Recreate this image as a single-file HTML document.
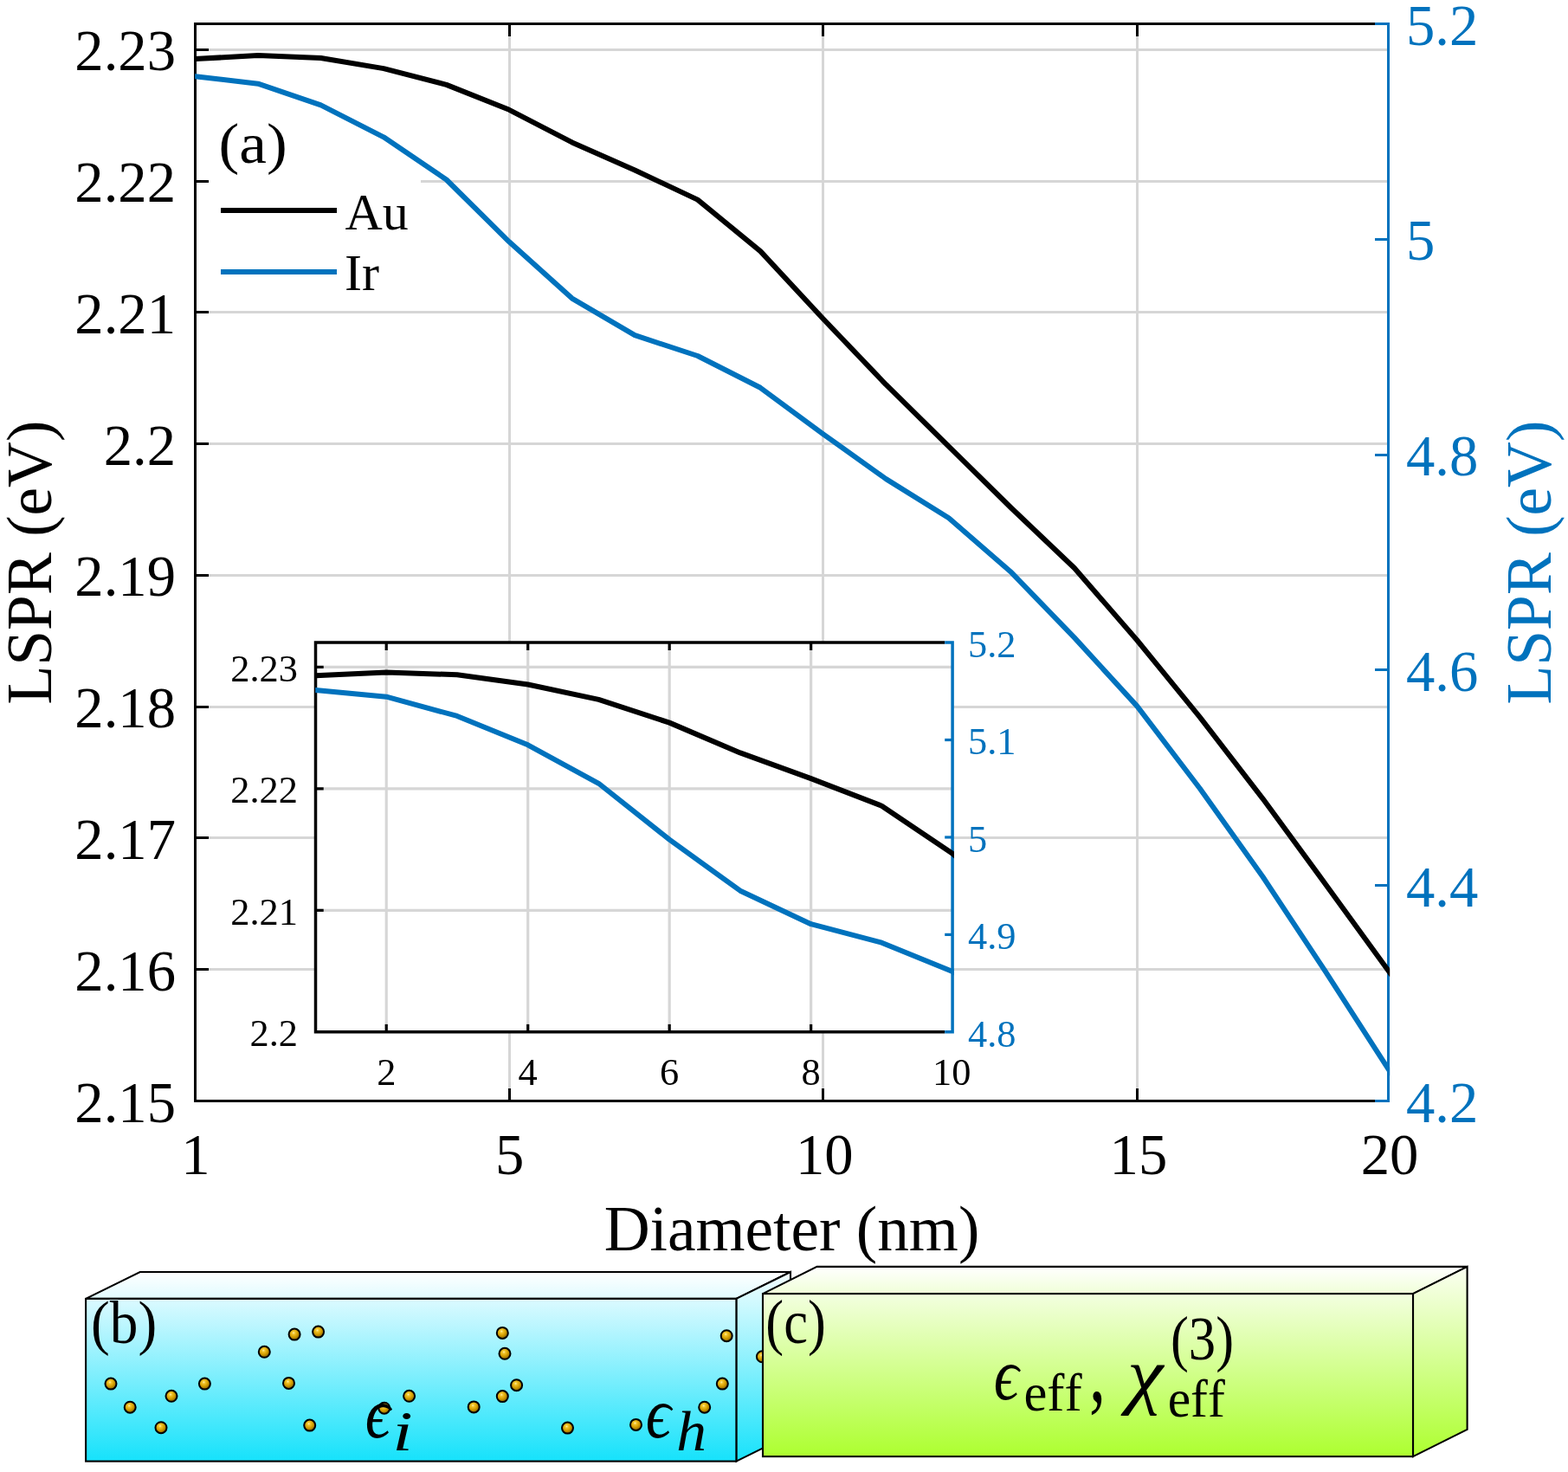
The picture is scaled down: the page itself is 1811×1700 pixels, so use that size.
<!DOCTYPE html>
<html lang="en"><head><meta charset="utf-8"><title>LSPR versus diameter</title>
<style>html,body{margin:0;padding:0;background:#fff;}svg{display:block;}text{font-family:'Liberation Serif', 'DejaVu Serif', serif;}</style></head><body>
<svg width="1811" height="1700" viewBox="0 0 1811 1700">
<defs>
<clipPath id="cm"><rect x="225.2" y="26" width="1380" height="1247"/></clipPath>
<clipPath id="ci"><rect x="364.2" y="740.5" width="737.7" height="453"/></clipPath>
<linearGradient id="gc" x1="0" y1="0" x2="0" y2="1"><stop offset="0" stop-color="#dcfaff"/><stop offset="1" stop-color="#16e2fb"/></linearGradient>
<linearGradient id="gct" x1="0" y1="0" x2="0" y2="1"><stop offset="0" stop-color="#ffffff"/><stop offset="1" stop-color="#e0fbff"/></linearGradient>
<linearGradient id="gcs" x1="0" y1="0" x2="0" y2="1"><stop offset="0" stop-color="#f4feff"/><stop offset="1" stop-color="#17e2fb"/></linearGradient>
<linearGradient id="gg" x1="0" y1="0" x2="0" y2="1"><stop offset="0" stop-color="#f3ffe0"/><stop offset="1" stop-color="#adff2f"/></linearGradient>
<linearGradient id="ggt" x1="0" y1="0" x2="0" y2="1"><stop offset="0" stop-color="#ffffff"/><stop offset="1" stop-color="#f0ffd8"/></linearGradient>
<linearGradient id="ggs" x1="0" y1="0" x2="0" y2="1"><stop offset="0" stop-color="#fbfff2"/><stop offset="1" stop-color="#adff2f"/></linearGradient>
<radialGradient id="gb" cx="0.42" cy="0.36" r="0.62"><stop offset="0" stop-color="#fff0a8"/><stop offset="0.22" stop-color="#f2c428"/><stop offset="0.6" stop-color="#d29c02"/><stop offset="1" stop-color="#8a6400"/></radialGradient>
</defs>
<rect x="0" y="0" width="1811" height="1700" fill="#fff"/>
<line x1="225.50" y1="57.40" x2="1603.50" y2="57.40" stroke="#d6d6d6" stroke-width="3.0" shape-rendering="crispEdges"/>
<line x1="486.00" y1="209.16" x2="1603.50" y2="209.16" stroke="#d6d6d6" stroke-width="3.0" shape-rendering="crispEdges"/>
<line x1="225.50" y1="360.92" x2="1603.50" y2="360.92" stroke="#d6d6d6" stroke-width="3.0" shape-rendering="crispEdges"/>
<line x1="225.50" y1="512.69" x2="1603.50" y2="512.69" stroke="#d6d6d6" stroke-width="3.0" shape-rendering="crispEdges"/>
<line x1="225.50" y1="664.45" x2="1603.50" y2="664.45" stroke="#d6d6d6" stroke-width="3.0" shape-rendering="crispEdges"/>
<line x1="225.50" y1="816.21" x2="1603.50" y2="816.21" stroke="#d6d6d6" stroke-width="3.0" shape-rendering="crispEdges"/>
<line x1="225.50" y1="967.97" x2="1603.50" y2="967.97" stroke="#d6d6d6" stroke-width="3.0" shape-rendering="crispEdges"/>
<line x1="225.50" y1="1119.74" x2="1603.50" y2="1119.74" stroke="#d6d6d6" stroke-width="3.0" shape-rendering="crispEdges"/>
<line x1="588.13" y1="27.50" x2="588.13" y2="1271.50" stroke="#d6d6d6" stroke-width="3.0" shape-rendering="crispEdges"/>
<line x1="950.76" y1="27.50" x2="950.76" y2="1271.50" stroke="#d6d6d6" stroke-width="3.0" shape-rendering="crispEdges"/>
<line x1="1313.39" y1="27.50" x2="1313.39" y2="1271.50" stroke="#d6d6d6" stroke-width="3.0" shape-rendering="crispEdges"/>
<line x1="588.13" y1="1271.50" x2="588.13" y2="1257.00" stroke="#000" stroke-width="3.0" shape-rendering="crispEdges"/>
<line x1="588.13" y1="27.50" x2="588.13" y2="42.00" stroke="#000" stroke-width="3.0" shape-rendering="crispEdges"/>
<line x1="950.76" y1="1271.50" x2="950.76" y2="1257.00" stroke="#000" stroke-width="3.0" shape-rendering="crispEdges"/>
<line x1="950.76" y1="27.50" x2="950.76" y2="42.00" stroke="#000" stroke-width="3.0" shape-rendering="crispEdges"/>
<line x1="1313.39" y1="1271.50" x2="1313.39" y2="1257.00" stroke="#000" stroke-width="3.0" shape-rendering="crispEdges"/>
<line x1="1313.39" y1="27.50" x2="1313.39" y2="42.00" stroke="#000" stroke-width="3.0" shape-rendering="crispEdges"/>
<line x1="225.50" y1="57.40" x2="241.00" y2="57.40" stroke="#000" stroke-width="3.0" shape-rendering="crispEdges"/>
<line x1="225.50" y1="209.16" x2="241.00" y2="209.16" stroke="#000" stroke-width="3.0" shape-rendering="crispEdges"/>
<line x1="225.50" y1="360.92" x2="241.00" y2="360.92" stroke="#000" stroke-width="3.0" shape-rendering="crispEdges"/>
<line x1="225.50" y1="512.69" x2="241.00" y2="512.69" stroke="#000" stroke-width="3.0" shape-rendering="crispEdges"/>
<line x1="225.50" y1="664.45" x2="241.00" y2="664.45" stroke="#000" stroke-width="3.0" shape-rendering="crispEdges"/>
<line x1="225.50" y1="816.21" x2="241.00" y2="816.21" stroke="#000" stroke-width="3.0" shape-rendering="crispEdges"/>
<line x1="225.50" y1="967.97" x2="241.00" y2="967.97" stroke="#000" stroke-width="3.0" shape-rendering="crispEdges"/>
<line x1="225.50" y1="1119.74" x2="241.00" y2="1119.74" stroke="#000" stroke-width="3.0" shape-rendering="crispEdges"/>
<line x1="1603.50" y1="276.30" x2="1588.00" y2="276.30" stroke="#0072BD" stroke-width="3.0" shape-rendering="crispEdges"/>
<line x1="1603.50" y1="525.10" x2="1588.00" y2="525.10" stroke="#0072BD" stroke-width="3.0" shape-rendering="crispEdges"/>
<line x1="1603.50" y1="773.90" x2="1588.00" y2="773.90" stroke="#0072BD" stroke-width="3.0" shape-rendering="crispEdges"/>
<line x1="1603.50" y1="1022.70" x2="1588.00" y2="1022.70" stroke="#0072BD" stroke-width="3.0" shape-rendering="crispEdges"/>
<path d="M1588,27.5 L225.5,27.5 L225.5,1271.5 L1588,1271.5" fill="none" stroke="#000" stroke-width="3.0" stroke-linecap="butt" stroke-linejoin="miter" shape-rendering="crispEdges"/>
<path d="M1588,27.5 L1603.5,27.5 L1603.5,1271.5 L1588,1271.5" fill="none" stroke="#0072BD" stroke-width="3.0" stroke-linecap="butt" stroke-linejoin="miter" shape-rendering="crispEdges"/>
<polyline points="221.50,68.33 225.50,68.10 298.03,64.00 370.55,67.00 443.08,79.10 515.61,97.90 588.13,126.80 660.66,164.40 733.18,196.50 805.71,230.60 878.24,290.10 950.76,368.20 1023.29,444.20 1095.82,515.60 1168.34,587.00 1240.87,656.00 1313.39,739.50 1385.92,828.40 1458.45,922.30 1530.97,1021.20 1603.50,1121.00 1607.50,1126.50" fill="none" stroke="#000" stroke-width="6.0" stroke-linejoin="round" clip-path="url(#cm)"/>
<polyline points="221.50,87.73 225.50,88.20 298.03,96.70 370.55,121.40 443.08,158.30 515.61,207.50 588.13,279.30 660.66,344.60 733.18,387.20 805.71,411.00 878.24,447.80 950.76,501.30 1023.29,553.10 1095.82,598.30 1168.34,661.30 1240.87,736.40 1313.39,815.60 1385.92,910.80 1458.45,1012.50 1530.97,1122.20 1603.50,1234.60 1607.50,1240.80" fill="none" stroke="#0072BD" stroke-width="6.0" stroke-linejoin="round" clip-path="url(#cm)"/>
<text x="203.00" y="81.40" font-size="66.67" fill="#000" text-anchor="end" >2.23</text>
<text x="203.00" y="233.16" font-size="66.67" fill="#000" text-anchor="end" >2.22</text>
<text x="203.00" y="384.92" font-size="66.67" fill="#000" text-anchor="end" >2.21</text>
<text x="203.00" y="536.69" font-size="66.67" fill="#000" text-anchor="end" >2.2</text>
<text x="203.00" y="688.45" font-size="66.67" fill="#000" text-anchor="end" >2.19</text>
<text x="203.00" y="840.21" font-size="66.67" fill="#000" text-anchor="end" >2.18</text>
<text x="203.00" y="991.97" font-size="66.67" fill="#000" text-anchor="end" >2.17</text>
<text x="203.00" y="1143.74" font-size="66.67" fill="#000" text-anchor="end" >2.16</text>
<text x="203.00" y="1295.50" font-size="66.67" fill="#000" text-anchor="end" >2.15</text>
<text x="1624.00" y="51.50" font-size="66.67" fill="#0072BD" text-anchor="start" >5.2</text>
<text x="1624.00" y="300.30" font-size="66.67" fill="#0072BD" text-anchor="start" >5</text>
<text x="1624.00" y="549.10" font-size="66.67" fill="#0072BD" text-anchor="start" >4.8</text>
<text x="1624.00" y="797.90" font-size="66.67" fill="#0072BD" text-anchor="start" >4.6</text>
<text x="1624.00" y="1046.70" font-size="66.67" fill="#0072BD" text-anchor="start" >4.4</text>
<text x="1624.00" y="1295.50" font-size="66.67" fill="#0072BD" text-anchor="start" >4.2</text>
<text x="226.00" y="1356.30" font-size="66.67" fill="#000" text-anchor="middle" >1</text>
<text x="588.63" y="1356.30" font-size="66.67" fill="#000" text-anchor="middle" >5</text>
<text x="952.26" y="1356.30" font-size="66.67" fill="#000" text-anchor="middle" >10</text>
<text x="1314.89" y="1356.30" font-size="66.67" fill="#000" text-anchor="middle" >15</text>
<text x="1605.00" y="1356.30" font-size="66.67" fill="#000" text-anchor="middle" >20</text>
<text x="914.50" y="1443.50" font-size="73.33" fill="#000" text-anchor="middle" >Diameter (nm)</text>
<text transform="translate(58.5,649.5) rotate(-90)" font-size="73.33" fill="#000" text-anchor="middle">LSPR (eV)</text>
<text transform="translate(1790.5,649.5) rotate(-90)" font-size="73.33" fill="#0072BD" text-anchor="middle">LSPR (eV)</text>
<text transform="matrix(0.7133 0 0 0.6573 252.47 187.51)" font-size="100" fill="#000" style="font-kerning:none;font-variant-ligatures:none">(a)</text>
<line x1="255.00" y1="243.00" x2="389.00" y2="243.00" stroke="#000" stroke-width="6.0" />
<line x1="255.00" y1="314.00" x2="389.00" y2="314.00" stroke="#0072BD" stroke-width="6.0" />
<text x="398.50" y="264.50" font-size="60" fill="#000" text-anchor="start" >Au</text>
<text x="398.00" y="334.70" font-size="60" fill="#000" text-anchor="start" >Ir</text>
<rect x="364.5" y="742.1" width="735.5999999999999" height="449.69999999999993" fill="#fff"/>
<line x1="364.50" y1="770.40" x2="1100.10" y2="770.40" stroke="#d6d6d6" stroke-width="3.2" />
<line x1="364.50" y1="910.87" x2="1100.10" y2="910.87" stroke="#d6d6d6" stroke-width="3.2" />
<line x1="364.50" y1="1051.33" x2="1100.10" y2="1051.33" stroke="#d6d6d6" stroke-width="3.2" />
<line x1="446.23" y1="742.10" x2="446.23" y2="1191.80" stroke="#d6d6d6" stroke-width="3.2" />
<line x1="609.70" y1="742.10" x2="609.70" y2="1191.80" stroke="#d6d6d6" stroke-width="3.2" />
<line x1="773.17" y1="742.10" x2="773.17" y2="1191.80" stroke="#d6d6d6" stroke-width="3.2" />
<line x1="936.63" y1="742.10" x2="936.63" y2="1191.80" stroke="#d6d6d6" stroke-width="3.2" />
<line x1="446.23" y1="1191.80" x2="446.23" y2="1182.90" stroke="#000" stroke-width="3.2" />
<line x1="446.23" y1="742.10" x2="446.23" y2="751.00" stroke="#000" stroke-width="3.2" />
<line x1="609.70" y1="1191.80" x2="609.70" y2="1182.90" stroke="#000" stroke-width="3.2" />
<line x1="609.70" y1="742.10" x2="609.70" y2="751.00" stroke="#000" stroke-width="3.2" />
<line x1="773.17" y1="1191.80" x2="773.17" y2="1182.90" stroke="#000" stroke-width="3.2" />
<line x1="773.17" y1="742.10" x2="773.17" y2="751.00" stroke="#000" stroke-width="3.2" />
<line x1="936.63" y1="1191.80" x2="936.63" y2="1182.90" stroke="#000" stroke-width="3.2" />
<line x1="936.63" y1="742.10" x2="936.63" y2="751.00" stroke="#000" stroke-width="3.2" />
<line x1="364.50" y1="770.40" x2="373.70" y2="770.40" stroke="#000" stroke-width="3.2" />
<line x1="364.50" y1="910.87" x2="373.70" y2="910.87" stroke="#000" stroke-width="3.2" />
<line x1="364.50" y1="1051.33" x2="373.70" y2="1051.33" stroke="#000" stroke-width="3.2" />
<line x1="1100.10" y1="854.52" x2="1091.20" y2="854.52" stroke="#0072BD" stroke-width="3.2" />
<line x1="1100.10" y1="966.95" x2="1091.20" y2="966.95" stroke="#0072BD" stroke-width="3.2" />
<line x1="1100.10" y1="1079.38" x2="1091.20" y2="1079.38" stroke="#0072BD" stroke-width="3.2" />
<path d="M1091.1999999999998,742.1 L364.5,742.1 L364.5,1191.8 L1091.1999999999998,1191.8" fill="none" stroke="#000" stroke-width="3.5"/>
<path d="M1091.1999999999998,742.1 L1100.1,742.1 L1100.1,1191.8 L1091.1999999999998,1191.8" fill="none" stroke="#0072BD" stroke-width="3.5"/>
<polyline points="360.50,780.49 364.50,780.30 446.23,776.51 527.97,779.29 609.70,790.48 691.43,807.89 773.17,834.63 854.90,869.44 936.63,899.15 1018.37,930.71 1100.10,985.78 1181.83,1058.07" fill="none" stroke="#000" stroke-width="6.0" stroke-linejoin="round" clip-path="url(#ci)"/>
<polyline points="360.50,796.58 364.50,796.96 446.23,804.64 527.97,826.96 609.70,860.31 691.43,904.77 773.17,969.66 854.90,1028.68 936.63,1067.17 1018.37,1088.68 1100.10,1121.94 1181.83,1170.29" fill="none" stroke="#0072BD" stroke-width="6.0" stroke-linejoin="round" clip-path="url(#ci)"/>
<text x="344.00" y="787.00" font-size="44.4" fill="#000" text-anchor="end" >2.23</text>
<text x="344.00" y="927.47" font-size="44.4" fill="#000" text-anchor="end" >2.22</text>
<text x="344.00" y="1067.93" font-size="44.4" fill="#000" text-anchor="end" >2.21</text>
<text x="344.00" y="1208.40" font-size="44.4" fill="#000" text-anchor="end" >2.2</text>
<text x="1118.00" y="758.90" font-size="44.4" fill="#0072BD" text-anchor="start" >5.2</text>
<text x="1118.00" y="871.32" font-size="44.4" fill="#0072BD" text-anchor="start" >5.1</text>
<text x="1118.00" y="983.75" font-size="44.4" fill="#0072BD" text-anchor="start" >5</text>
<text x="1118.00" y="1096.17" font-size="44.4" fill="#0072BD" text-anchor="start" >4.9</text>
<text x="1118.00" y="1208.60" font-size="44.4" fill="#0072BD" text-anchor="start" >4.8</text>
<text x="446.23" y="1252.90" font-size="44.4" fill="#000" text-anchor="middle" >2</text>
<text x="609.70" y="1252.90" font-size="44.4" fill="#000" text-anchor="middle" >4</text>
<text x="773.17" y="1252.90" font-size="44.4" fill="#000" text-anchor="middle" >6</text>
<text x="936.63" y="1252.90" font-size="44.4" fill="#000" text-anchor="middle" >8</text>
<text x="1099.30" y="1252.90" font-size="44.4" fill="#000" text-anchor="middle" >10</text>
<polygon points="99.1,1499.9 161.7,1469.0 913.0,1469.0 850.4,1499.9" fill="url(#gct)" stroke="#000" stroke-width="2.1" stroke-linejoin="miter"/>
<polygon points="850.4,1499.9 913.0,1469.0 913.0,1656.6999999999998 850.4,1687.6" fill="url(#gcs)" stroke="#000" stroke-width="2.1" stroke-linejoin="miter"/>
<rect x="99.1" y="1499.9" width="751.3" height="187.69999999999982" fill="url(#gc)" stroke="#000" stroke-width="2.1" stroke-linejoin="miter"/>
<circle cx="128.0" cy="1598.1" r="6.5" fill="url(#gb)" stroke="#000" stroke-width="2"/>
<circle cx="150.2" cy="1625.2" r="6.5" fill="url(#gb)" stroke="#000" stroke-width="2"/>
<circle cx="186.0" cy="1648.7" r="6.5" fill="url(#gb)" stroke="#000" stroke-width="2"/>
<circle cx="198.0" cy="1612.3" r="6.5" fill="url(#gb)" stroke="#000" stroke-width="2"/>
<circle cx="236.4" cy="1598.1" r="6.5" fill="url(#gb)" stroke="#000" stroke-width="2"/>
<circle cx="305.3" cy="1561.3" r="6.5" fill="url(#gb)" stroke="#000" stroke-width="2"/>
<circle cx="340.1" cy="1541.1" r="6.5" fill="url(#gb)" stroke="#000" stroke-width="2"/>
<circle cx="367.6" cy="1538.1" r="6.5" fill="url(#gb)" stroke="#000" stroke-width="2"/>
<circle cx="333.5" cy="1597.4" r="6.5" fill="url(#gb)" stroke="#000" stroke-width="2"/>
<circle cx="357.7" cy="1646.1" r="6.5" fill="url(#gb)" stroke="#000" stroke-width="2"/>
<circle cx="443.8" cy="1626.2" r="6.5" fill="url(#gb)" stroke="#000" stroke-width="2"/>
<circle cx="472.6" cy="1612.3" r="6.5" fill="url(#gb)" stroke="#000" stroke-width="2"/>
<circle cx="547.2" cy="1624.9" r="6.5" fill="url(#gb)" stroke="#000" stroke-width="2"/>
<circle cx="580.3" cy="1539.4" r="6.5" fill="url(#gb)" stroke="#000" stroke-width="2"/>
<circle cx="583.0" cy="1563.3" r="6.5" fill="url(#gb)" stroke="#000" stroke-width="2"/>
<circle cx="580.3" cy="1612.6" r="6.5" fill="url(#gb)" stroke="#000" stroke-width="2"/>
<circle cx="596.6" cy="1599.7" r="6.5" fill="url(#gb)" stroke="#000" stroke-width="2"/>
<circle cx="655.5" cy="1649.1" r="6.5" fill="url(#gb)" stroke="#000" stroke-width="2"/>
<circle cx="734.5" cy="1645.4" r="6.5" fill="url(#gb)" stroke="#000" stroke-width="2"/>
<circle cx="813.7" cy="1625.2" r="6.5" fill="url(#gb)" stroke="#000" stroke-width="2"/>
<circle cx="834.3" cy="1598.1" r="6.5" fill="url(#gb)" stroke="#000" stroke-width="2"/>
<circle cx="839.2" cy="1542.7" r="6.5" fill="url(#gb)" stroke="#000" stroke-width="2"/>
<circle cx="880.4" cy="1566.8" r="6.5" fill="url(#gb)" stroke="#000" stroke-width="2"/>
<text transform="matrix(0.6530 0 0 0.7058 105.03 1550.97)" font-size="100" fill="#000" style="font-kerning:none;font-variant-ligatures:none">(b)</text>
<text transform="matrix(0.7205 0 0 0.8275 421.65 1659.89)" font-size="100" fill="#000" font-style="italic" style="font-kerning:none;font-variant-ligatures:none">ϵ</text>
<text transform="matrix(0.8442 0 0 0.6479 453.20 1675.00)" font-size="100" fill="#000" font-style="italic" style="font-kerning:none;font-variant-ligatures:none">i</text>
<text transform="matrix(0.7254 0 0 0.8275 745.64 1659.89)" font-size="100" fill="#000" font-style="italic" style="font-kerning:none;font-variant-ligatures:none">ϵ</text>
<text transform="matrix(0.6937 0 0 0.6457 781.29 1675.00)" font-size="100" fill="#000" font-style="italic" style="font-kerning:none;font-variant-ligatures:none">h</text>
<polygon points="881.0,1494.1 943.6,1462.8999999999999 1694.6,1462.8999999999999 1632.0,1494.1" fill="url(#ggt)" stroke="#000" stroke-width="2.1" stroke-linejoin="miter"/>
<polygon points="1632.0,1494.1 1694.6,1462.8999999999999 1694.6,1650.8999999999999 1632.0,1682.1" fill="url(#ggs)" stroke="#000" stroke-width="2.1" stroke-linejoin="miter"/>
<rect x="881.0" y="1494.1" width="751.0" height="188.0" fill="url(#gg)" stroke="#000" stroke-width="2.1" stroke-linejoin="miter"/>
<text transform="matrix(0.6262 0 0 0.7091 884.35 1550.90)" font-size="100" fill="#000" style="font-kerning:none;font-variant-ligatures:none">(c)</text>
<text transform="matrix(0.7180 0 0 0.8379 1147.86 1616.48)" font-size="100" fill="#000" font-style="italic" style="font-kerning:none;font-variant-ligatures:none">ϵ</text>
<text transform="matrix(0.6052 0 0 0.6192 1182.44 1629.00)" font-size="100" fill="#000" style="font-kerning:none;font-variant-ligatures:none">eff</text>
<text transform="matrix(0.7588 0 0 1.0590 1257.91 1617.91)" font-size="100" fill="#000" style="font-kerning:none;font-variant-ligatures:none">,</text>
<text transform="matrix(0.9380 0 0 0.8662 1302.11 1615.76)" font-size="100" fill="#000" font-style="italic" style="font-kerning:none;font-variant-ligatures:none">χ</text>
<text transform="matrix(0.5958 0 0 0.6038 1348.67 1635.51)" font-size="100" fill="#000" style="font-kerning:none;font-variant-ligatures:none">eff</text>
<text transform="matrix(0.6270 0 0 0.7102 1351.94 1570.28)" font-size="100" fill="#000" style="font-kerning:none;font-variant-ligatures:none">(3)</text>
</svg></body></html>
